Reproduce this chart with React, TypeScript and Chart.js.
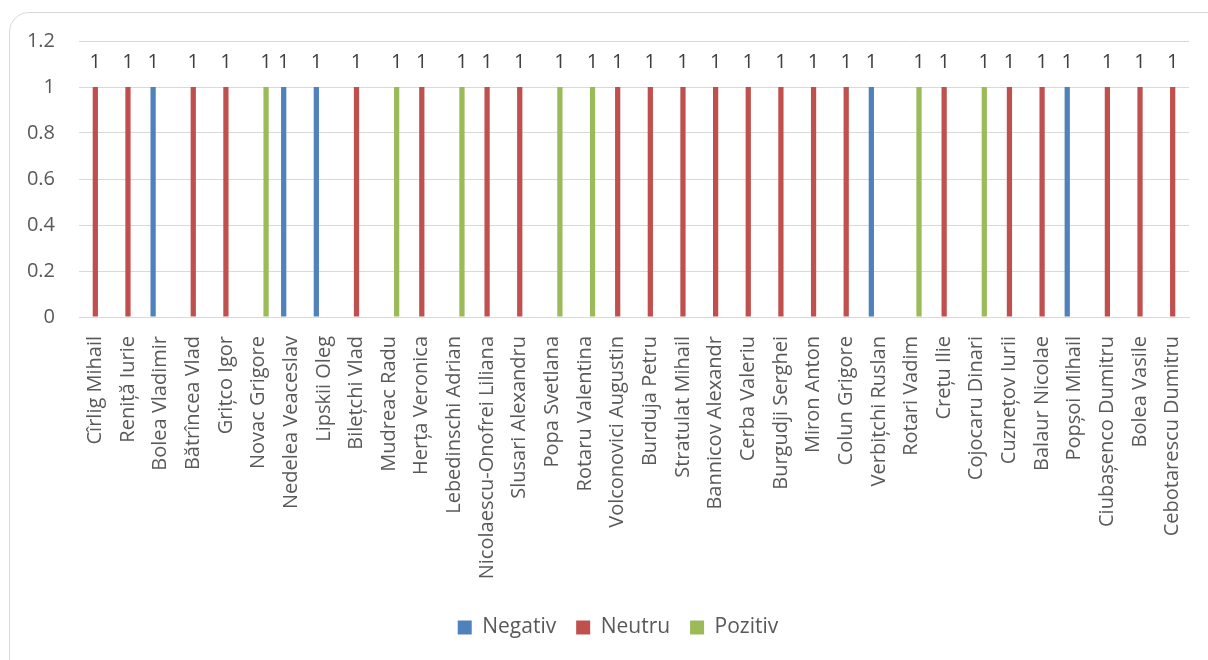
import React, { useEffect, useRef } from "react";
import { Chart, registerables } from "chart.js";

Chart.register(...registerables);

const categories = [
  "Cîrlig Mihail", "Reniță Iurie", "Bolea Vladimir", "Bătrîncea Vlad", "Grițco Igor",
  "Novac Grigore", "Nedelea Veaceslav", "Lipskii Oleg", "Bilețchi Vlad", "Mudreac Radu",
  "Herța Veronica", "Lebedinschi Adrian", "Nicolaescu-Onofrei Liliana", "Slusari Alexandru",
  "Popa Svetlana", "Rotaru Valentina", "Volconovici Augustin", "Burduja Petru",
  "Stratulat Mihail", "Bannicov Alexandr", "Cerba Valeriu", "Burgudji Serghei",
  "Miron Anton", "Colun Grigore", "Verbițchi Ruslan", "Rotari Vadim", "Crețu Ilie",
  "Cojocaru Dinari", "Cuznețov Iurii", "Balaur Nicolae", "Popșoi Mihail",
  "Ciubașenco Dumitru", "Bolea Vasile", "Cebotarescu Dumitru",
];

const _ = null;
const negativ = [_, _, 1, _, _, _, 1, 1, _, _, _, _, _, _, _, _, _, _, _, _, _, _, _, _, 1, _, _, _, _, _, 1, _, _, _];
const neutru = [1, 1, _, 1, 1, _, _, _, 1, _, 1, _, 1, 1, _, _, 1, 1, 1, 1, 1, 1, 1, 1, _, _, 1, _, 1, 1, _, 1, 1, 1];
const pozitiv = [_, _, _, _, _, 1, _, _, _, 1, _, 1, _, _, 1, 1, _, _, _, _, _, _, _, _, _, 1, _, 1, _, _, _, _, _, _];

const yTicks = [0, 0.2, 0.4, 0.6, 0.8, 1, 1.2];

const FONT = "'Open Sans', sans-serif";

const dataLabels = {
  id: "dataLabels",
  afterDatasetsDraw(chart: any) {
    const ctx = chart.ctx;
    ctx.save();
    ctx.font = `20px ${FONT}`;
    ctx.fillStyle = "#404040";
    ctx.textAlign = "center";
    ctx.textBaseline = "alphabetic";
    chart.data.datasets.forEach((ds: any, di: number) => {
      const meta = chart.getDatasetMeta(di);
      meta.data.forEach((el: any, i: number) => {
        const v = ds.data[i];
        if (v === null || v === undefined) return;
        ctx.fillText(String(v), el.x, el.y - 19);
      });
    });
    ctx.restore();
  },
};

function noVerticalPadding(scale: any) {
  scale.paddingTop = 0;
  scale.paddingBottom = 0;
}

export default function App() {
  const ref = useRef<HTMLCanvasElement | null>(null);
  useEffect(() => {
    if (!ref.current) return;
    const common = { categoryPercentage: 0.69, barPercentage: 0.7 };
    const chart = new Chart(ref.current, {
      type: "bar",
      data: {
        labels: categories,
        datasets: [
          { label: "Negativ", data: negativ, backgroundColor: "#4f81bd", ...common },
          { label: "Neutru", data: neutru, backgroundColor: "#c0504d", ...common },
          { label: "Pozitiv", data: pozitiv, backgroundColor: "#9bbb59", ...common },
        ],
      },
      options: {
        responsive: false,
        maintainAspectRatio: false,
        animation: false,
        layout: { padding: { top: 28, right: 0, bottom: 23, left: 0 } },
        plugins: {
          tooltip: { enabled: false },
          legend: {
            position: "bottom",
            labels: {
              boxWidth: 14,
              boxHeight: 14,
              padding: 20,
              color: "#595959",
              font: { family: FONT, size: 21 },
            },
          },
        },
        scales: {
          x: {
            grid: { display: false },
            border: { display: true, color: "#d9d9d9" },
            ticks: {
              autoSkip: false,
              minRotation: 90,
              maxRotation: 90,
              padding: 11,
              color: "#595959",
              font: { family: FONT, size: 20 },
            },
            afterFit(scale: any) {
              scale.height = 280;
            },
          },
          y: {
            min: 0,
            max: 1.2,
            afterBuildTicks(scale: any) {
              scale.ticks = yTicks.map((v) => ({ value: v }));
            },
            grid: { color: "#d9d9d9", drawTicks: false },
            border: { display: false },
            ticks: {
              padding: 24,
              color: "#595959",
              font: { family: FONT, size: 20 },
              callback: (v: any) => String(Math.round(Number(v) * 10) / 10),
            },
            afterFit(scale: any) {
              scale.width = 69;
              noVerticalPadding(scale);
            },
          },
          yRight: {
            position: "right",
            display: true,
            grid: { display: false },
            border: { display: false },
            ticks: { display: false },
            afterFit(scale: any) {
              scale.width = 37;
              noVerticalPadding(scale);
            },
          },
        },
      },
      plugins: [dataLabels],
    } as any);
    return () => chart.destroy();
  }, []);

  return (
    <div
      style={{
        position: "fixed",
        left: 9,
        top: 12,
        width: 1230,
        height: 680,
        boxSizing: "border-box",
        border: "1px solid #d9d9d9",
        borderRadius: 20,
        background: "#fff",
        overflow: "hidden",
      }}
    >
      <canvas ref={ref} width={1216} height={658} style={{ display: "block" }} />
    </div>
  );
}
